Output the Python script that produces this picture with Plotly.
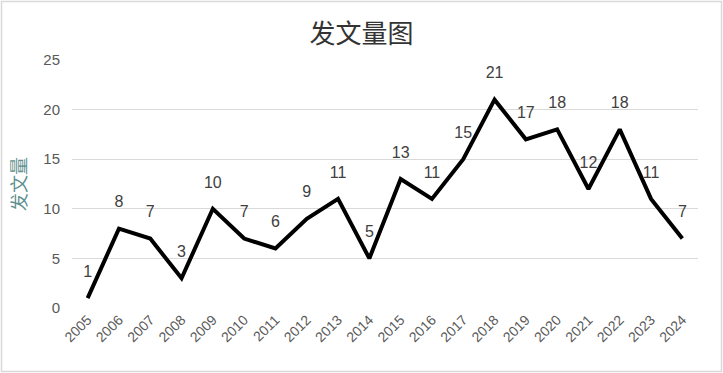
import plotly.graph_objects as go

years = [str(y) for y in range(2005, 2025)]
counts = [1, 8, 7, 3, 10, 7, 6, 9, 11, 5, 13, 11, 15, 21, 17, 18, 12, 18, 11, 7]
y_ticks = [0, 5, 10, 15, 20, 25]

W, H = 723, 373
ml, mr, mt, mb = 72, 25, 60, 65

fig = go.Figure()
fig.add_trace(go.Scatter(
    x=years, y=counts, mode="lines+markers+text",
    text=[str(v) for v in counts], textposition="top center",
    textfont=dict(family="Liberation Sans, Arial", size=16, color="#404040"),
    line=dict(color="black", width=4),
    marker=dict(size=26, color="rgba(0,0,0,0)"),
    hoverinfo="x+y", cliponaxis=False,
))

pw = W - ml - mr
ph = H - mt - mb
fig.add_shape(type="rect", xref="paper", yref="paper",
              x0=(1.5 - ml) / pw, x1=(W - 1.5 - ml) / pw,
              y0=-(H - 1.5 - mt - ph) / ph, y1=(mt - 1.5 + ph) / ph,
              line=dict(color="#d9d9d9", width=1.5), layer="below")

fig.update_layout(
    width=W, height=H,
    margin=dict(l=ml, r=mr, t=mt, b=mb),
    paper_bgcolor="white", plot_bgcolor="white",
    showlegend=False,
    title=dict(text="发文量图", x=0.5, xanchor="center", y=0.91, yanchor="middle",
               xref="container",
               font=dict(family="Noto Sans CJK SC", size=26, color="#333333")),
    xaxis=dict(type="category", range=[-0.5, len(years) - 0.5], tickangle=-45,
               showgrid=False, showline=False,
               ticks="", tickfont=dict(family="Liberation Sans, Arial", size=14, color="#595959"),
               zeroline=False, automargin=False),
    yaxis=dict(range=[0, 25], tickvals=y_ticks, showgrid=True, gridcolor="#d9d9d9",
               gridwidth=1.3, zeroline=False, showline=False, ticks="",
               ticklabelstandoff=11,
               tickfont=dict(family="Liberation Sans, Arial", size=15, color="#595959"),
               title=dict(text="发文量", standoff=12,
                          font=dict(family="Noto Sans CJK SC", size=18, color="#5f8f8f")),
               automargin=False),
)

fig.write_html("out.html", config={"displayModeBar": False},
               post_script="document.body.style.margin='0';")
